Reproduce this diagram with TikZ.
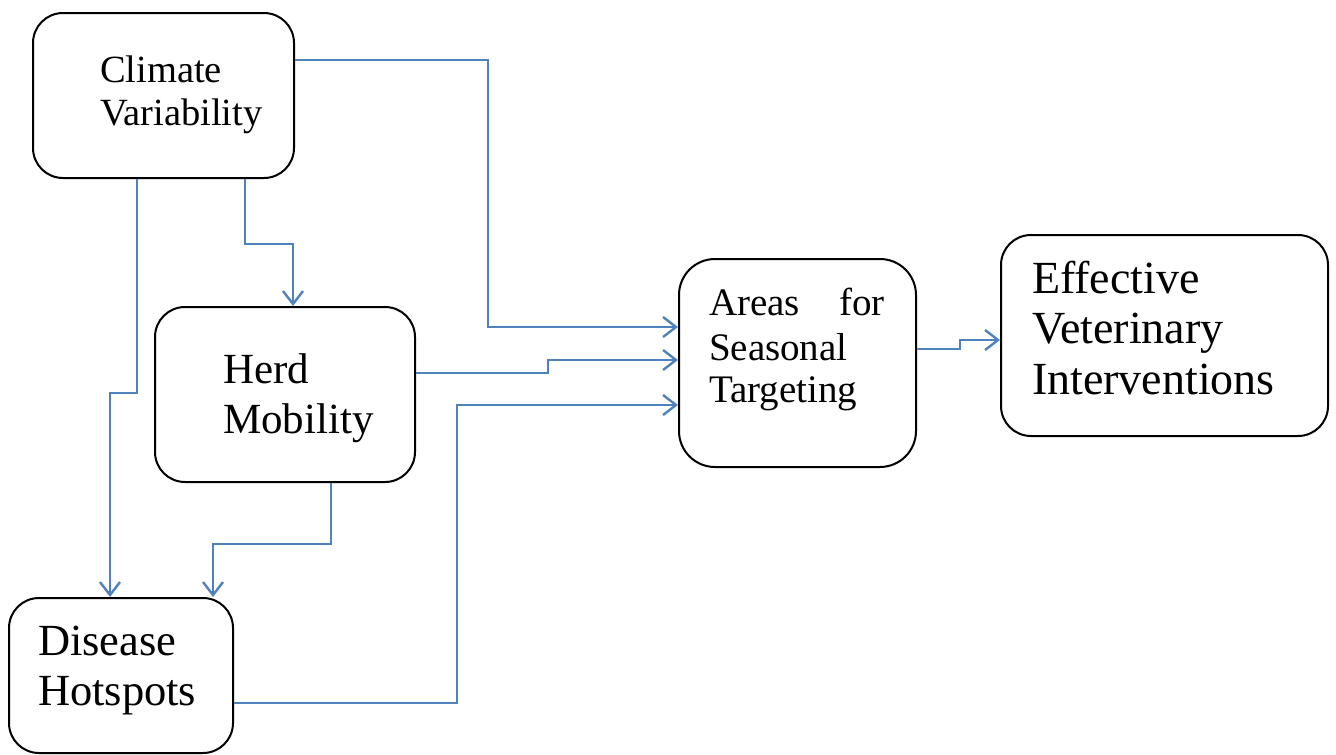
\documentclass[tikz,border=0pt]{standalone}
\usepackage{fontspec}
\setmainfont{Liberation Serif}
\usetikzlibrary{arrows.meta}
\definecolor{linkblue}{HTML}{4F81BD}
\tikzset{
  box/.style={draw=black, line width=2pt, rounded corners=30pt, inner sep=0pt},
  txt/.style={anchor=base west, inner sep=0pt, outer sep=0pt},
  arr/.style={draw=linkblue, line width=2.4pt, -{Straight Barb[length=13pt,width=20pt,line width=2.4pt]}},
}
\begin{document}
\begin{tikzpicture}[x=1pt,y=-1pt]
\useasboundingbox (0,0) rectangle (1336,755);
% boxes
\node[box, minimum width=261pt, minimum height=165pt] (cv) at (163.5,95.5) {};
\node[box, minimum width=260pt, minimum height=175pt] (hm) at (285,394.5) {};
\node[box, minimum width=224pt, minimum height=155pt] (dh) at (121,675.5) {};
\node[box, minimum width=237pt, minimum height=208pt, rounded corners=36pt] (ast) at (797.5,363) {};
\node[box, minimum width=327pt, minimum height=201pt] (evi) at (1164.5,335.5) {};
% texts
\node[txt, font=\fontsize{38.5}{43}\selectfont] (cv1) at (100,82) {Climate};
\node[txt, font=\fontsize{38.5}{43}\selectfont] (cv2) at (100,125) {Variability};
\node[txt, font=\fontsize{43}{50}\selectfont] (hm1) at (223,383) {Herd};
\node[txt, font=\fontsize{43}{50}\selectfont] (hm2) at (223,433) {Mobility};
\node[txt, font=\fontsize{44.5}{50}\selectfont] (dh1) at (38,655) {Disease};
\node[txt, font=\fontsize{44.5}{50}\selectfont] (dh2) at (38,705) {Hotspots};
\node[txt, font=\fontsize{39}{44}\selectfont, text width=176pt, align=justify] (as1) at (709,315) {Areas\hfill for};
\node[txt, font=\fontsize{39}{44}\selectfont] (as2) at (709,360) {Seasonal};
\node[txt, font=\fontsize{39}{44}\selectfont] (as3) at (709,402) {Targeting};
\node[txt, font=\fontsize{46}{50}\selectfont] (ev1) at (1032,293) {Effective};
\node[txt, font=\fontsize{46}{50}\selectfont] (ev2) at (1032,343) {Veterinary};
\node[txt, font=\fontsize{46}{50}\selectfont] (ev3) at (1032,394) {Interventions};
% connectors
\draw[arr] ([yshift=35.5pt]cv.east) -- ++(193,0) |- ([yshift=36pt]ast.west);
\draw[arr] ([xshift=81.5pt]cv.south) -- ++(0,65) -| ([xshift=8pt]hm.north);
\draw[arr] ([xshift=-26.5pt]cv.south) -- ++(0,214) -| ([xshift=-11pt]dh.north);
\draw[arr] ([yshift=21.5pt]hm.east) -- ++(132,0) |- ([yshift=3pt]ast.west);
\draw[arr] ([xshift=46pt]hm.south) -- ++(0,61) -| ([xshift=92pt]dh.north);
\draw[arr] ([yshift=-27.5pt]dh.east) -- ++(223,0) |- ([yshift=-42pt]ast.west);
\draw[arr] ([yshift=14pt]ast.east) -- ++(43,0) |- ([yshift=-4.5pt]evi.west);
\end{tikzpicture}
\end{document}
